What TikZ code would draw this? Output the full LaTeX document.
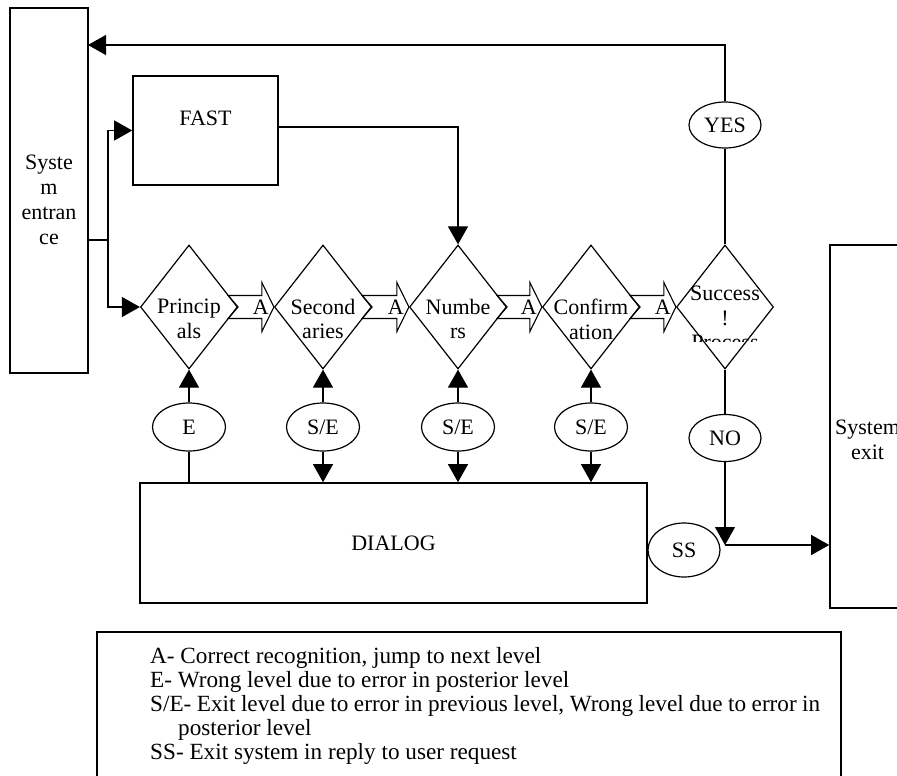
\documentclass[tikz,border=0pt]{standalone}
\usepackage{fontspec}
\setmainfont{Liberation Serif}
\usetikzlibrary{arrows.meta,positioning,calc,shapes.geometric}

\begin{document}
\begin{tikzpicture}[x=1pt,y=-1pt,
    font=\fontsize{22}{24.8}\selectfont,
    box/.style={draw,line width=1.6pt,inner sep=0pt},
    level/.style={draw,diamond,line width=1.2pt,inner sep=0pt,minimum width=97pt,minimum height=124pt},
    tag/.style={draw,ellipse,line width=1.2pt,inner sep=0pt,minimum width=73pt,minimum height=48pt},
    arr/.style={-{Triangle[length=18pt,width=20pt]},line width=1.1pt},
    link/.style={line width=1.1pt}]

    % Frame
    \useasboundingbox (0,0) rectangle (897,776);
    \clip (0,0) rectangle (897,776);

    % Boxes
    \node[box,minimum width=78pt,minimum height=365pt,
      label={[align=center,yshift=-9.5pt]center:Syste\\m\\entran\\ce}] (ent) at (49,190.5) {};
    \node[box,minimum width=145pt,minimum height=109pt,
      label={[yshift=12.5pt]center:FAST}] (fast) at (205.5,130.5) {};
    \node[box,minimum width=507pt,minimum height=120pt] (dialog) at (393.5,543) {DIALOG};
    \node[box,minimum width=95pt,minimum height=363pt,
      label={[align=center,xshift=-10pt,yshift=-13pt]center:System\\exit}] (exit) at (877.5,426.5) {};

    % Levels
    \node[level,label={[align=center,yshift=-12pt]center:Princip\\als}] (prin) at (189,307) {};
    \node[level,label={[align=center,yshift=-12pt]center:Second\\aries}] (sec) at (323,307) {};
    \node[level,label={[align=center,yshift=-12pt]center:Numbe\\rs}] (num) at (458,307) {};
    \node[level,label={[align=center,yshift=-12pt]center:Confirm\\ation}] (conf) at (591,307) {};
    \node[level] (succ) at (725,307) {};
    \begin{scope}
      \clip (660,260) rectangle (790,341);
      \node[align=center] (succtext) at (725,318) {Success\\!\\Process};
    \end{scope}

    % Tags
    \node[tag] (e1) at (189,427) {E};
    \node[tag] (e2) at (323,427) {S/E};
    \node[tag] (e3) at (458,427) {S/E};
    \node[tag] (e4) at (591,427) {S/E};
    \node[tag,minimum width=72pt,minimum height=46pt] (yes) at (725,125) {YES};
    \node[tag,minimum width=72pt,minimum height=47pt] (no) at (725,438) {NO};
    \node[tag,minimum width=72pt,minimum height=54pt] (ss) at (684,550) {SS};

    \coordinate (split) at (108,240);
    \coordinate (back) at (88,45);
    \coordinate (stop) at (725,545);

    % Entrance and FAST
    \draw[link] (ent.east |- split) -- (split);
    \draw[arr] (split) |- (fast.west);
    \draw[arr] (split) |- (prin.west);
    \draw[arr] ([yshift=3.5pt]fast.east) -| (num.north);

    % Success
    \draw[link] (succ.north) -- (yes.south);
    \draw[arr] (yes.north) |- (back);
    \draw[link] (succ.south) -- (no.north);
    \draw[arr] (no.south) -- (stop);
    \draw[arr] (stop) -- (exit.west |- stop);

    % Tags to levels and dialog
    \foreach \t/\d in {e1/prin,e2/sec,e3/num,e4/conf}
      \draw[arr] (\t.north) -- (\d.south);
    \draw[link] (e1.south) -- (dialog.north -| e1);
    \foreach \t in {e2,e3,e4}
      \draw[arr] (\t.south) -- (dialog.north -| \t);

    % Block arrows A
    \foreach \a/\b in {prin/sec,sec/num,num/conf,conf/succ} {
      \draw[line width=1.1pt] ($(\a.east)+(-10,-11.5)$) -- ($(\b.west)+(-12,-11.5)$)
        -- ($(\b.west)+(-12,-24.5)$) -- (\b.west) -- ($(\b.west)+(-12,24.5)$)
        -- ($(\b.west)+(-12,11.5)$) -- ($(\a.east)+(-10,11.5)$) -- (\a.east) -- cycle;
      \node (a-\a) at ($(\b.west)+(-13,0)$) {A};
    }

    % Legend
    \draw[line width=1.6pt] (97,632) rectangle (841,800);
    \node[anchor=base west,align=left,inner sep=0pt,
      font=\fontsize{23.2}{24}\selectfont] (legend) at (150,759) {%
      A- Correct recognition, jump to next level\\
      E- Wrong level due to error in posterior level\\
      \makebox[670pt][s]{S/E- Exit level due to error in previous level, Wrong level due to error in}\\
      \hspace*{28pt}posterior level\\
      SS- Exit system in reply to user request};
\end{tikzpicture}
\end{document}
